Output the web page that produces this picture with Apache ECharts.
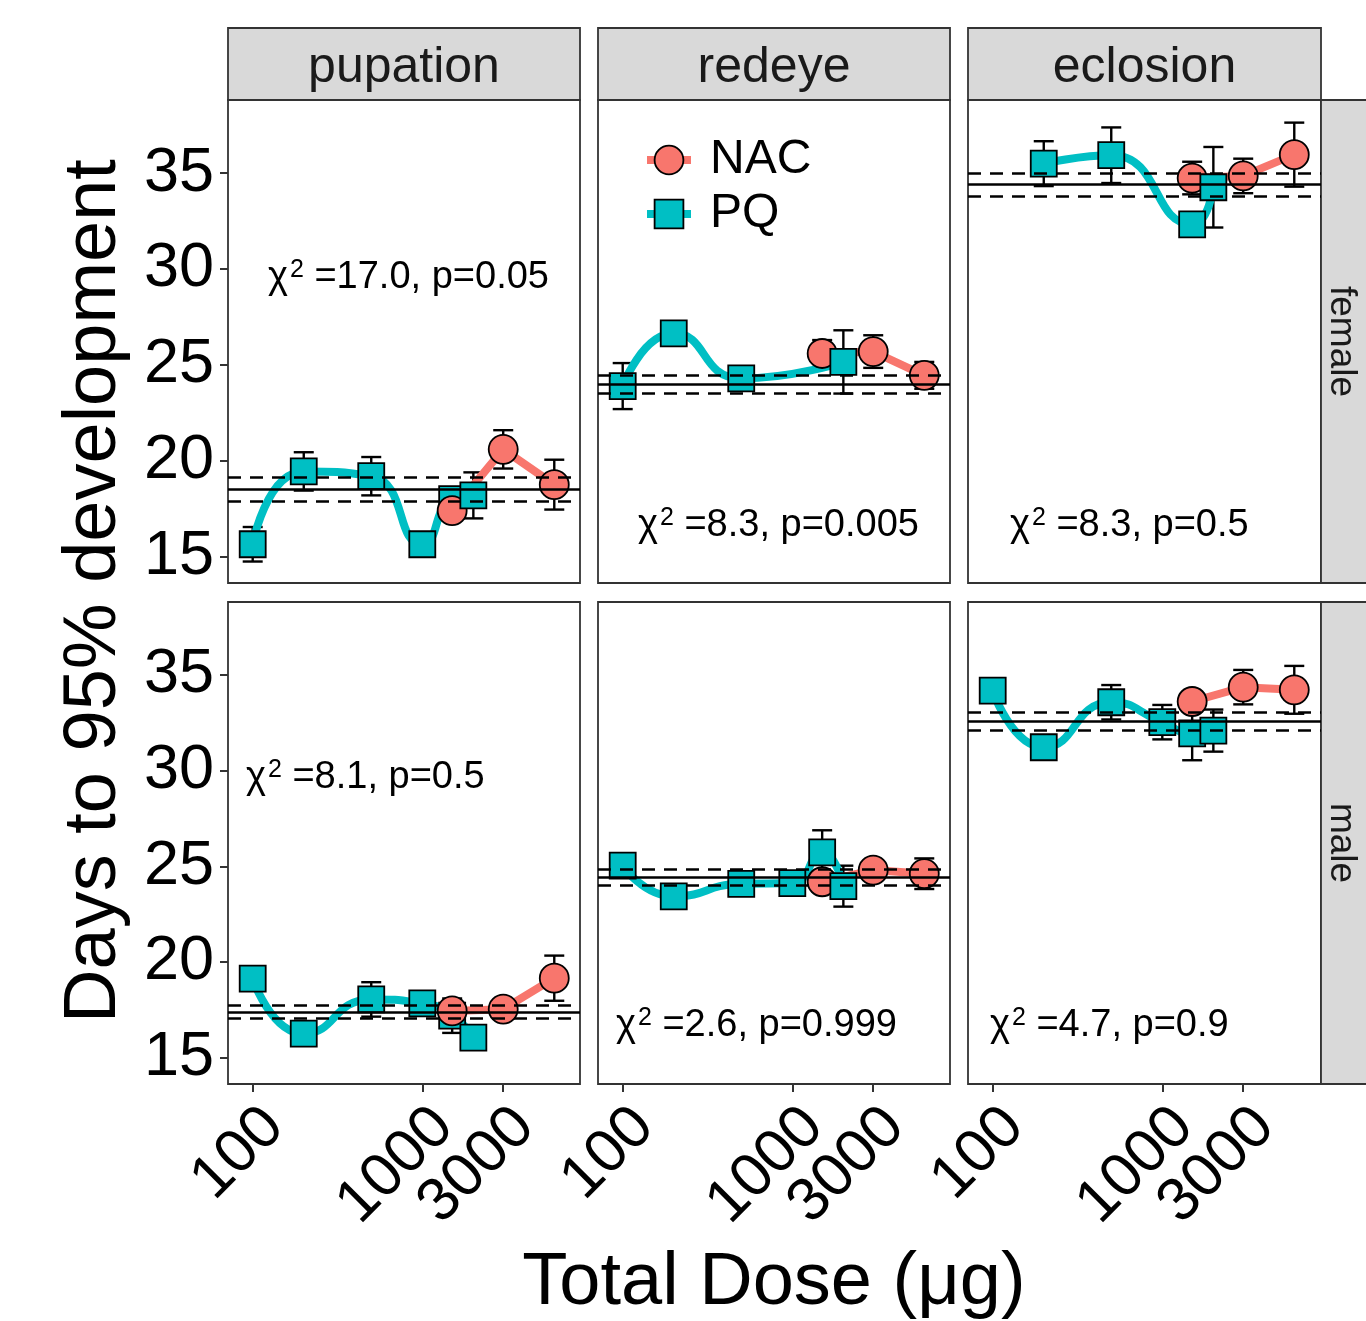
<!DOCTYPE html>
<html>
<head>
<meta charset="utf-8">
<script src="https://cdn.jsdelivr.net/npm/echarts@6/dist/echarts.min.js"></script>
<style>html,body{margin:0;padding:0;background:#fff}#chart{width:1366px;height:1321px}</style>
</head>
<body>
<div id="chart"></div>
<script>
var stages = ['pupation', 'redeye', 'eclosion'];
var sexes = ['female', 'male'];
var doseTicksMain = [100, 1000];
var doseTicksExtra = [3000];
var dayTicks = [15, 20, 25, 30, 35];

var nacDose = [1500, 3000, 6000];
var pqDoseAll = [100, 200, 500, 1000, 1500, 2000];
var pqDoseRedeyeF = [100, 200, 500, 2000];
var pqDoseEclosionF = [200, 500, 1500, 2000];

// panel order: female pupation, redeye, eclosion, then male pupation, redeye, eclosion
var pqDose = [pqDoseAll, pqDoseRedeyeF, pqDoseEclosionF, pqDoseAll, pqDoseAll, pqDoseAll];
var pqMean = [
	[15.65, 19.45, 19.2, 15.65, 18.0, 18.2],
	[23.9, 26.65, 24.3, 25.16],
	[35.5, 35.94, 32.33, 34.27],
	[19.14, 16.26, 18.05, 17.84, 17.2, 16.05],
	[25.04, 23.44, 24.09, 24.13, 25.74, 23.97],
	[34.19, 31.23, 33.58, 32.54, 31.95, 32.1]
];
var pqErr = [
	[0.9, 1.0, 1.0, 0.3, 0.5, 1.2],
	[1.2, 0.4, 0.4, 1.65],
	[1.17, 1.45, 0.3, 2.1],
	[0.35, 0.3, 0.9, 0.5, 0.9, 0.5],
	[0.3, 0.3, 0.3, 0.3, 1.15, 1.07],
	[0.3, 0.4, 0.9, 0.9, 1.4, 1.1]
];
var nacMean = [
	[17.4, 20.6, 18.76],
	[25.6, 25.7, 24.46],
	[34.75, 34.86, 35.97],
	[17.45, 17.54, 19.16],
	[24.2, 24.81, 24.62],
	[33.62, 34.37, 34.23]
];
var nacErr = [
	[0.4, 1.0, 1.3],
	[0.7, 0.85, 0.7],
	[0.85, 0.9, 1.67],
	[0.4, 0.3, 1.18],
	[0.4, 0.4, 0.8],
	[0.5, 0.9, 1.25]
];
var refMean = [18.52, 23.98, 34.41, 17.4, 24.44, 32.58];
var refLow = [17.9, 23.5, 33.82, 17.05, 24.01, 32.1];
var refHigh = [19.13, 24.46, 34.98, 17.75, 24.84, 33.07];
var chiText = ['=17.0, p=0.05', '=8.3, p=0.005', '=8.3, p=0.5', '=8.1, p=0.5', '=2.6, p=0.999', '=4.7, p=0.9'];

// layout
var colLeft = [228, 598, 968], colW = [352, 352, 353];
var rowTop = [100, 602], rowH = [483, 482];
var pxDecade = 169.6, px100 = 24.7;
var yMin = 13.63, yMax = 38.82;
var chiPos = [[268, 275], [638, 523], [1010, 523], [246, 775], [616, 1023], [990, 1023]];
var FONT = '"Liberation Sans", Arial, sans-serif';
var RED = '#F8766D', TEAL = '#00BFC4';

function renderErr(params, api) {
	var x = api.value(0), m = api.value(1), e = api.value(2);
	var top = api.coord([x, m + e]), bot = api.coord([x, m - e]);
	var w = 10, st = {stroke: '#000', lineWidth: 2.4};
	return {type: 'group', children: [
		{type: 'line', shape: {x1: top[0], y1: top[1], x2: bot[0], y2: bot[1]}, style: st},
		{type: 'line', shape: {x1: top[0] - w, y1: top[1], x2: top[0] + w, y2: top[1]}, style: st},
		{type: 'line', shape: {x1: bot[0] - w, y1: bot[1], x2: bot[0] + w, y2: bot[1]}, style: st}
	]};
}

function renderMark(params, api) {
	var p = api.coord([api.value(0), api.value(1)]);
	if (api.value(2) === 1) {
		return {type: 'circle', shape: {cx: p[0], cy: p[1], r: 14.5}, style: {fill: RED, stroke: '#000', lineWidth: 1.8}};
	}
	return {type: 'rect', shape: {x: p[0] - 13, y: p[1] - 13, width: 26, height: 26}, style: {fill: TEAL, stroke: '#000', lineWidth: 1.8}};
}

function doseAxis(gridIndex, c, show, ticks) {
	return {
		type: 'log', logBase: 10, gridIndex: gridIndex, position: 'bottom',
		min: Math.pow(10, 2 - px100 / pxDecade),
		max: Math.pow(10, 2 + (colW[c] - px100) / pxDecade),
		axisLine: {show: false},
		splitLine: {show: false},
		minorTick: {show: false},
		axisTick: {show: show, customValues: ticks, length: 8, lineStyle: {color: '#333', width: 2}},
		axisLabel: {show: show, customValues: ticks, hideOverlap: false,
			rotate: 45, align: 'right', verticalAlign: 'top',
			margin: 12, fontSize: 61, color: '#000', fontFamily: FONT,
			formatter: function (v) { return String(Math.round(v)); }}
	};
}

var grids = [], xAxes = [], yAxes = [], series = [], graphics = [];

for (var r = 0; r < 2; r++) {
	for (var c = 0; c < 3; c++) {
		var i = r * 3 + c;
		grids.push({left: colLeft[c], top: rowTop[r], width: colW[c], height: rowH[r],
			show: true, borderColor: '#333', borderWidth: 1.8, backgroundColor: '#fff'});
		xAxes.push(doseAxis(i, c, r === 1, doseTicksMain));
		yAxes.push({
			type: 'value', gridIndex: i, min: yMin, max: yMax,
			axisLine: {show: false},
			splitLine: {show: false},
			axisTick: {show: c === 0, customValues: dayTicks, length: 8, lineStyle: {color: '#333', width: 2}},
			axisLabel: {show: c === 0, customValues: dayTicks, margin: 14, fontSize: 63, color: '#000', fontFamily: FONT}
		});

		var errData = [], markData = [];
		var pqLine = [], nacLine = [];
		pqDose[i].forEach(function (d, k) {
			errData.push([d, pqMean[i][k], pqErr[i][k]]);
			markData.push([d, pqMean[i][k], 0]);
			pqLine.push([d, pqMean[i][k]]);
		});
		nacDose.forEach(function (d, k) {
			errData.push([d, nacMean[i][k], nacErr[i][k]]);
			markData.push([d, nacMean[i][k], 1]);
			nacLine.push([d, nacMean[i][k]]);
		});
		// points drawn in dose order, PQ before NAC at equal dose
		markData.sort(function (a, b) { return a[0] - b[0] || a[2] - b[2]; });

		series.push({type: 'custom', xAxisIndex: i, yAxisIndex: i, z: 2, silent: true,
			renderItem: renderErr, data: errData});
		series.push({type: 'line', name: 'NAC', xAxisIndex: i, yAxisIndex: i, z: 3, silent: true,
			data: nacLine, smooth: false, showSymbol: false, symbol: 'circle',
			itemStyle: {color: RED, borderColor: '#000', borderWidth: 1.8},
			lineStyle: {color: RED, width: 8}});
		series.push({type: 'line', name: 'PQ', xAxisIndex: i, yAxisIndex: i, z: 3, silent: true,
			data: pqLine, smooth: 0.55, showSymbol: false, symbol: 'rect',
			itemStyle: {color: TEAL, borderColor: '#000', borderWidth: 1.8},
			lineStyle: {color: TEAL, width: 8}});
		series.push({type: 'custom', xAxisIndex: i, yAxisIndex: i, z: 4, silent: true,
			renderItem: renderMark, data: markData});
		series.push({type: 'line', xAxisIndex: i, yAxisIndex: i, z: 5, silent: true, data: [],
			markLine: {silent: true, symbol: 'none', label: {show: false}, animation: false,
				lineStyle: {color: '#000', width: 2.5},
				data: [
					{yAxis: refMean[i], lineStyle: {type: 'solid'}},
					{yAxis: refLow[i], lineStyle: {type: [13, 9]}},
					{yAxis: refHigh[i], lineStyle: {type: [13, 9]}}
				]}});

		graphics.push({type: 'text', left: chiPos[i][0], top: chiPos[i][1] - 17, z: 10,
			style: {text: '{c|χ}{s|2}{t| ' + chiText[i] + '}', fill: '#000',
				rich: {
					c: {fontSize: 38, fontFamily: FONT, lineHeight: 48, verticalAlign: 'bottom'},
					s: {fontSize: 25, fontFamily: FONT, lineHeight: 48, verticalAlign: 'bottom', padding: [0, 0, 14, 2]},
					t: {fontSize: 38, fontFamily: FONT, lineHeight: 48, verticalAlign: 'bottom'}
				}}});
	}
}
// second dose axis on the bottom panels so the 3000 label is not dropped as overlapping
for (var c2 = 0; c2 < 3; c2++) {
	xAxes.push(doseAxis(3 + c2, c2, true, doseTicksExtra));
}

// facet strips
stages.forEach(function (s, c) {
	graphics.push({type: 'rect', shape: {x: colLeft[c], y: 28, width: colW[c], height: 72},
		style: {fill: '#D9D9D9', stroke: '#333', lineWidth: 1.8}, z: 1});
	graphics.push({type: 'text', x: colLeft[c] + colW[c] / 2, y: 68, z: 2,
		style: {text: s, fontSize: 50, fontFamily: FONT, fill: '#1A1A1A', align: 'center', verticalAlign: 'middle'}});
});
sexes.forEach(function (s, r) {
	graphics.push({type: 'rect', shape: {x: 1321, y: rowTop[r], width: 60, height: rowH[r]},
		style: {fill: '#D9D9D9', stroke: '#333', lineWidth: 1.8}, z: 1});
	graphics.push({type: 'text', x: 1341, y: rowTop[r] + rowH[r] / 2, rotation: -Math.PI / 2, z: 2,
		style: {text: s, fontSize: 37, fontFamily: FONT, fill: '#1A1A1A', align: 'center', verticalAlign: 'middle'}});
});
graphics.push({type: 'text', x: 95, y: 591, rotation: Math.PI / 2, z: 2,
	style: {text: 'Days to 95% development', fontSize: 74, fontFamily: FONT, fill: '#000', align: 'center', verticalAlign: 'middle'}});
graphics.push({type: 'text', x: 774, y: 1284, z: 2,
	style: {text: 'Total Dose (μg)', fontSize: 74, fontFamily: FONT, fill: '#000', align: 'center', verticalAlign: 'middle'}});

var chart = echarts.init(document.getElementById('chart'));
chart.setOption({
	animation: false,
	backgroundColor: '#fff',
	textStyle: {fontFamily: FONT},
	grid: grids,
	xAxis: xAxes,
	yAxis: yAxes,
	legend: {
		data: ['NAC', 'PQ'], orient: 'vertical', left: 643, top: 136, padding: 0,
		itemWidth: 44, itemHeight: 36, itemGap: 6,
		itemStyle: {borderColor: '#000', borderWidth: 1.8},
		lineStyle: {width: 8},
		textStyle: {fontSize: 48, color: '#000', lineHeight: 36, padding: [0, 0, 0, 14]},
		selectedMode: false
	},
	graphic: graphics,
	series: series
});
</script>
</body>
</html>
